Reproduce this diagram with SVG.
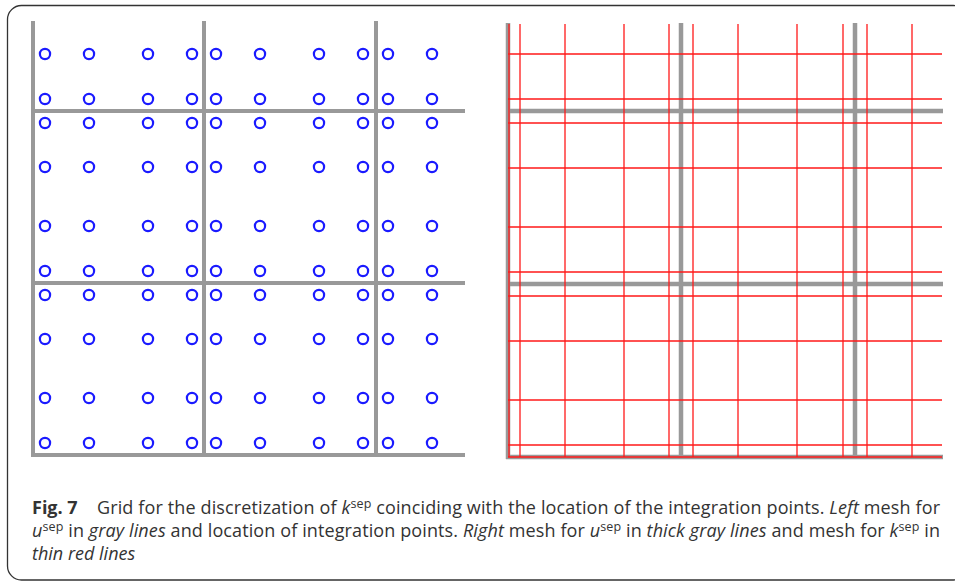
<svg xmlns="http://www.w3.org/2000/svg" width="955" height="581" viewBox="0 0 955 581">
<style>
.frame{fill:#fff;stroke:#333;stroke-width:1.3}
.g{stroke:#999;stroke-width:4;fill:none;stroke-linecap:square}
.gt{stroke:#999;stroke-width:4.5;fill:none}
.r{stroke:#ff1a1a;stroke-width:1.3;fill:none}
.ip{fill:none;stroke:#1a1aff;stroke-width:2.2}
.cap{font-family:"Open Sans","Liberation Sans",sans-serif;font-size:18px;fill:#333}
.b{font-weight:bold}
.i{font-style:italic}
.s{font-size:12.5px}
</style>
<defs>
<circle id="c" r="5.1" class="ip"/>
<g id="row">
<use href="#c" x="45"/><use href="#c" x="89"/><use href="#c" x="148"/><use href="#c" x="192"/><use href="#c" x="216"/><use href="#c" x="260"/><use href="#c" x="319"/><use href="#c" x="363"/><use href="#c" x="388"/><use href="#c" x="432"/>
</g>
</defs>
<rect class="frame" x="7.5" y="5.5" width="960" height="574.5" rx="14"/>
<g id="left-panel">
<g id="left-mesh">
<path class="g" d="M33 23V455M204 23V455M376 23V455M33 111H463M33 283H463M33 455H463"/>
</g>
<g id="integration-points">
<use href="#row" y="54"/><use href="#row" y="99"/><use href="#row" y="123"/><use href="#row" y="167"/><use href="#row" y="226"/><use href="#row" y="271"/><use href="#row" y="295"/><use href="#row" y="339"/><use href="#row" y="398"/><use href="#row" y="443"/>
</g>
</g>
<g id="right-panel">
<g id="u-mesh">
<path class="gt" d="M508 23V459M681 23V459M855 23V459M506 111H943M506 284H943M506 457H943"/>
</g>
<g id="k-mesh">
<path class="r" d="M509 24V457M520 24V457M565 24V457M624 24V457M669 24V457M693 24V457M738 24V457M797 24V457M843 24V457M867 24V457M912 24V457"/>
<path class="r" d="M508 54H942M508 99H942M508 123H942M508 168H942M508 227H942M508 272H942M508 296H942M508 341H942M508 400H942M508 445H942M508 457H942"/>
</g>
</g>
<g id="caption">
<text class="cap b" x="32" y="514">Fig. 7</text>
<text class="cap" x="97" y="514" textLength="843">Grid for the discretization of <tspan class="i">k</tspan><tspan class="s" dy="-6">sep</tspan><tspan dy="6"> coinciding with the location of the integration points. </tspan><tspan class="i">Left</tspan> mesh for</text>
<text class="cap" x="32" y="537" textLength="908"><tspan class="i">u</tspan><tspan class="s" dy="-6">sep</tspan><tspan dy="6"> in </tspan><tspan class="i">gray lines</tspan> and location of integration points. <tspan class="i">Right</tspan> mesh for <tspan class="i">u</tspan><tspan class="s" dy="-6">sep</tspan><tspan dy="6"> in </tspan><tspan class="i">thick gray lines</tspan> and mesh for <tspan class="i">k</tspan><tspan class="s" dy="-6">sep</tspan><tspan dy="6"> in</tspan></text>
<text class="cap i" x="32" y="560">thin red lines</text>
</g>
</svg>
